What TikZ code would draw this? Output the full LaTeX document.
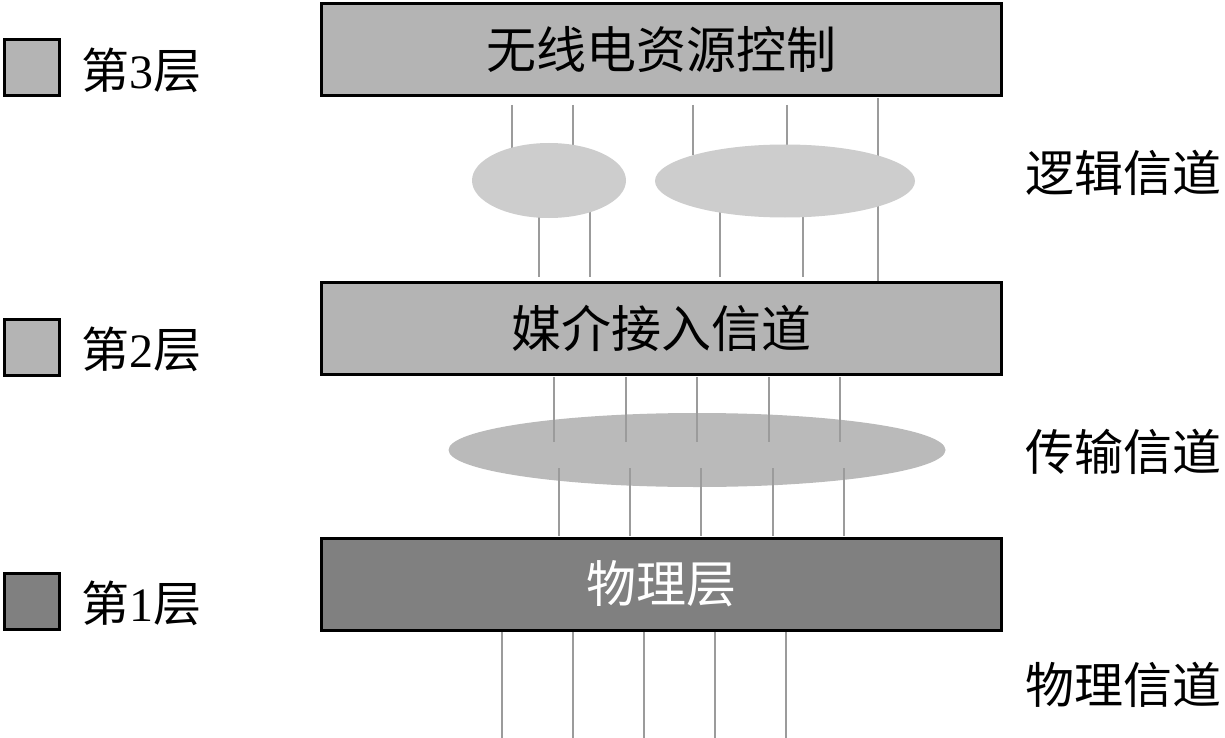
\documentclass[tikz,border=0pt]{standalone}
\usepackage{fontspec}
\setmainfont{Liberation Serif}
\newfontfamily\cjk{Noto Sans CJK SC}
\usetikzlibrary{shapes.geometric}
\definecolor{boxgray}{RGB}{180,180,180}
\definecolor{phygray}{RGB}{128,128,128}
\definecolor{ellgray}{RGB}{205,205,205}
\definecolor{ell3gray}{RGB}{186,186,186}
\definecolor{linegray}{RGB}{155,155,155}
\tikzset{
  layerbox/.style={draw=black, line width=3pt, fill=boxgray, minimum width=680pt, minimum height=92pt, inner sep=0pt, font=\fontsize{50}{50}\selectfont\cjk},
  legbox/.style={draw=black, line width=3pt, fill=boxgray, minimum width=55pt, minimum height=56pt, inner sep=0pt},
  legtext/.style={anchor=west, inner sep=0pt, font=\fontsize{48}{48}\selectfont},
  chanlabel/.style={anchor=west, inner sep=0pt, font=\fontsize{49}{49}\selectfont\cjk},
  chan/.style={draw=linegray, line width=2.2pt},
  blob/.style={ellipse, inner sep=0pt, draw=none}
}
\begin{document}
\begin{tikzpicture}[x=1pt,y=-1pt]
\useasboundingbox (0,0) rectangle (1225,738);
% boxes
\node[layerbox] (rrc) at (661,50) {无线电资源控制};
\node[layerbox] (mac) at (661,328.5) {媒介接入信道};
\node[layerbox, fill=phygray, text=white] (phy) at (661,584) {物理层};
% legend
\node[legbox] (l3) at (32,68) {};
\node[legtext] (t3) at (81,70) {{\cjk 第}3{\cjk 层}};
\node[legbox] (l2) at (32,347) {};
\node[legtext] (t2) at (81,349) {{\cjk 第}2{\cjk 层}};
\node[legbox, fill=phygray] (l1) at (32,601) {};
\node[legtext] (t1) at (81,603) {{\cjk 第}1{\cjk 层}};
% channel labels
\node[chanlabel] (lc) at (1025,173) {逻辑信道};
\node[chanlabel] (tc) at (1025,452) {传输信道};
\node[chanlabel] (pc) at (1025,685) {物理信道};
% logical channel lines (behind ellipses)
\draw[chan] (512,105) -- (512,150);
\draw[chan] (573,105) -- (573,150);
\draw[chan] (693,105) -- (693,155);
\draw[chan] (787,105) -- (787,150);
\draw[chan] (878,98) -- (878,281);
\draw[chan] (539,210) -- (539,277);
\draw[chan] (590,210) -- (590,277);
\draw[chan] (720,210) -- (720,277);
\draw[chan] (803,210) -- (803,277);
% logical channel ellipses
\node[blob, fill=ellgray, minimum width=154pt, minimum height=75pt] (e1) at (549,180.5) {};
\node[blob, fill=ellgray, minimum width=260pt, minimum height=73pt] (e2) at (785,181) {};
% transport channel ellipse
\node[blob, fill=ell3gray, minimum width=497pt, minimum height=74pt] (e3) at (697,450) {};
% transport channel lines
\foreach \x in {554,626,697,769,840} \draw[chan] (\x,377) -- (\x,442);
\foreach \x in {559,630,701,773,844} \draw[chan] (\x,468) -- (\x,536);
% physical channel lines
\foreach \x in {502,573,644,715,786} \draw[chan] (\x,632) -- (\x,738);
\end{tikzpicture}
\end{document}
